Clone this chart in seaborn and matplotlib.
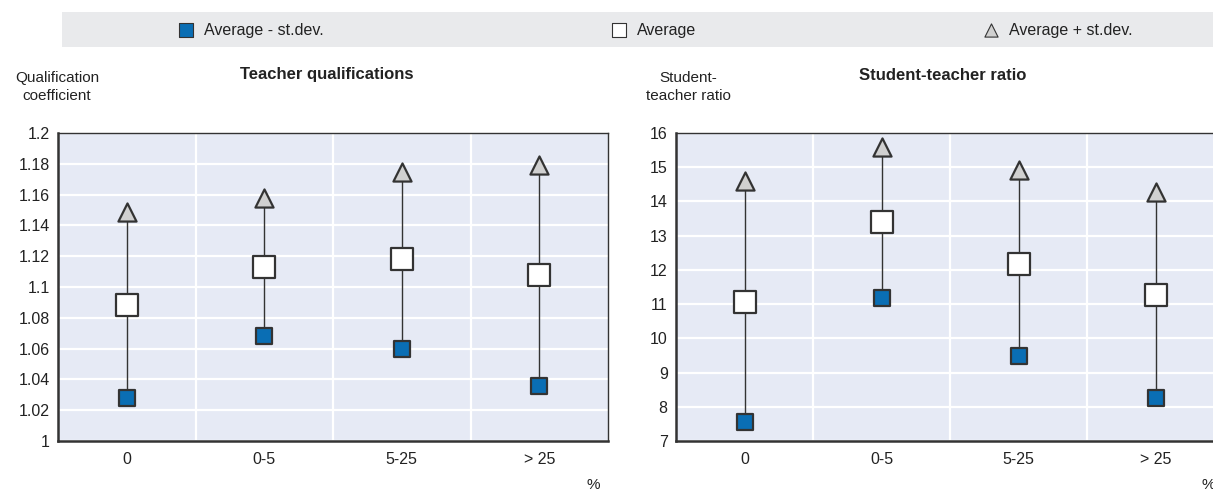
import matplotlib
matplotlib.use("Agg")
import matplotlib.pyplot as plt
import seaborn as sns
import pandas as pd
import numpy as np
from matplotlib.patches import Rectangle

categories = ["0", "0-5", "5-25", "> 25"]
qual_low = [1.028, 1.068, 1.060, 1.036]
qual_avg = [1.088, 1.113, 1.118, 1.108]
qual_high = [1.149, 1.158, 1.175, 1.179]
ratio_low = [7.55, 11.18, 9.49, 8.26]
ratio_avg = [11.06, 13.40, 12.18, 11.28]
ratio_high = [14.6, 15.6, 14.93, 14.28]
series_labels = ["Average - st.dev.", "Average", "Average + st.dev."]

sns.set_theme(style="white")
plt.rcParams['font.family'] = ['Liberation Sans Narrow', 'Liberation Sans', 'DejaVu Sans']
plt.rcParams['font.size'] = 11

fig = plt.figure(figsize=(12.13, 4.92), dpi=100)
bg = "#E6EAF5"
dark = "#333333"
blue = "#0A6EB4"

def panel(rect, low, avg, high, ylim, yticks, yticklabels, title, ylabel, ylab_x, title_x, pct_x):
    ax = fig.add_axes(rect)
    ax.set_facecolor(bg)
    df = pd.DataFrame({"cat": categories, "low": low, "avg": avg, "high": high})
    xpos = np.arange(len(categories))
    ax.vlines(xpos, df["low"], df["high"], color=dark, lw=1.0, zorder=2)
    sns.scatterplot(data=df, x="cat", y="low", ax=ax, marker="s", s=140, color=blue,
                    edgecolor=dark, linewidth=1.6, zorder=3, label=series_labels[0])
    sns.scatterplot(data=df, x="cat", y="avg", ax=ax, marker="s", s=230, color="white",
                    edgecolor=dark, linewidth=1.6, zorder=3, label=series_labels[1])
    sns.scatterplot(data=df, x="cat", y="high", ax=ax, marker="^", s=170, color="#D0D0D0",
                    edgecolor=dark, linewidth=1.6, zorder=3, label=series_labels[2])
    handles, labels = ax.get_legend_handles_labels()
    ax.get_legend().remove()
    ax.set_xlim(-0.5, len(categories) - 0.5)
    ax.set_ylim(*ylim)
    ax.set_yticks(yticks)
    ax.set_yticklabels(yticklabels)
    ax.set_xticks(xpos)
    ax.set_xticklabels(categories)
    ax.set_xticks(np.arange(0.5, len(categories) - 0.5, 1.0), minor=True)
    ax.tick_params(axis="x", which="major", length=0, pad=8, labelsize=11.5, colors="#222222")
    ax.tick_params(axis="x", which="minor", length=5, direction="in", width=1.2, color=dark)
    ax.tick_params(axis="y", length=0, pad=6, labelsize=11.5, colors="#222222")
    ax.set_xlabel("")
    ax.set_ylabel("")
    ax.grid(True, axis="y", color="white", lw=1.6, zorder=0)
    for v in np.arange(0.5, len(categories) - 0.5, 1.0):
        ax.axvline(v, color="white", lw=1.6, zorder=0)
    ax.set_axisbelow(True)
    for sp in ax.spines.values():
        sp.set_color(dark)
        sp.set_linewidth(1.0)
    ax.spines["bottom"].set_linewidth(1.8)
    ax.spines["left"].set_linewidth(1.8)
    fig.text(title_x / 1213, 1 - 75 / 492, title, ha="center", va="center",
             fontsize=12, fontweight="bold", color="#222222")
    fig.text(ylab_x / 1213, 1 - 87 / 492, ylabel, ha="center", va="center",
             fontsize=11, color="#222222", linespacing=1.3)
    fig.text(pct_x / 1213, 1 - 485 / 492, "%", ha="center", va="center",
             fontsize=11, color="#222222")
    return ax, handles, labels

axL, handles, labels = panel([58 / 1213, 51 / 492, 550 / 1213, 308 / 492],
                             qual_low, qual_avg, qual_high, (1.0, 1.2),
                             np.arange(1.0, 1.2001, 0.02),
                             ["1", "1.02", "1.04", "1.06", "1.08", "1.1", "1.12", "1.14", "1.16", "1.18", "1.2"],
                             "Teacher qualifications", "Qualification\ncoefficient", 57, 327, 593)
axR, _, _ = panel([676 / 1213, 51 / 492, 548 / 1213, 308 / 492],
                  ratio_low, ratio_avg, ratio_high, (7, 16),
                  np.arange(7, 17, 1), [str(v) for v in range(7, 17)],
                  "Student-teacher ratio", "Student-\nteacher ratio", 688, 943, 1208)

fig.patches.append(Rectangle((62 / 1213, 1 - 47 / 492), 1 - 62 / 1213, 35 / 492,
                             transform=fig.transFigure, facecolor="#E9EAEC",
                             edgecolor="none", zorder=0))
leg = fig.legend(handles, labels, loc="center left", bbox_to_anchor=(172 / 1213, 1 - 30 / 492),
                 ncol=3, frameon=False, columnspacing=18.0, handletextpad=0.6,
                 fontsize=11.5, handlelength=1.0, borderaxespad=0)
for h in leg.legend_handles:
    h.set_sizes([90])
    h.set_linewidth(0.8)
for t in leg.get_texts():
    t.set_color("#222222")

fig.savefig("out.png", dpi=100)
